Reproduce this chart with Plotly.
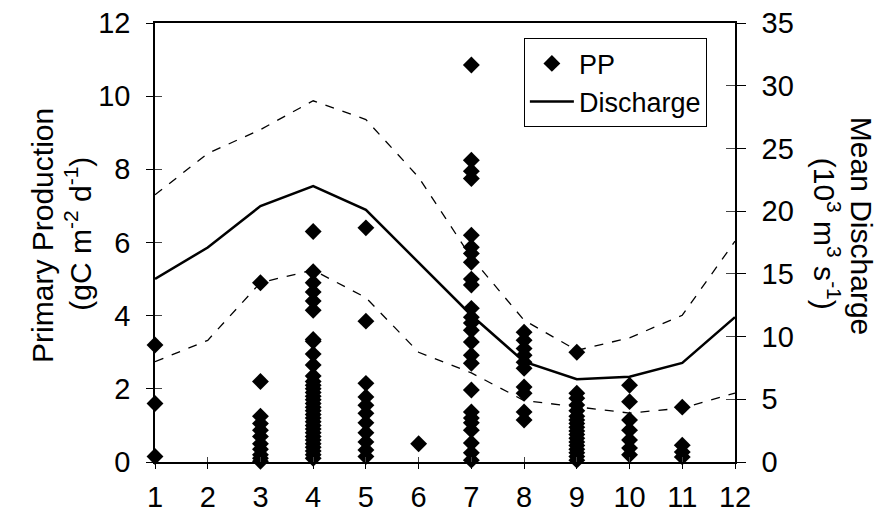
import plotly.graph_objects as go

months = list(range(1, 13))
month_labels = [str(m) for m in months]

# Discharge (10^3 m3 s-1): mean, upper and lower envelopes
discharge_mean = [14.6, 17.1, 20.4, 22.0, 20.1, 15.9, 11.7, 8.0, 6.6, 6.8, 7.9, 11.55]
discharge_upper = [21.3, 24.6, 26.5, 28.8, 27.3, 22.7, 16.3, 11.3, 8.9, 9.9, 11.7, 17.6]
discharge_lower = [8.0, 9.7, 14.3, 15.3, 13.1, 8.75, 7.1, 4.9, 4.4, 3.9, 4.3, 5.5]

# Primary production observations per month (gC m-2 d-1)
pp_m1 = [3.2, 1.6, 0.15]
pp_m3 = [4.9, 2.2, 1.25, 1.05, 0.87, 0.7, 0.5, 0.35, 0.2, 0.1, 0.02]
pp_m4 = [6.3, 5.2, 4.9, 4.65, 4.4, 4.15, 3.35, 3.3, 2.95, 2.65, 2.35, 2.2, 2.1, 2.0,
         1.9, 1.8, 1.7, 1.6, 1.5, 1.4, 1.3, 1.2, 1.1, 1.0, 0.9, 0.8, 0.7, 0.6, 0.5,
         0.4, 0.3, 0.2, 0.1]
pp_m5 = [6.4, 3.85, 2.15, 1.78, 1.55, 1.33, 1.07, 0.8, 0.55, 0.33, 0.15]
pp_m6 = [0.5]
pp_m7 = [10.85, 8.25, 7.95, 7.75, 6.2, 5.87, 5.7, 5.46, 5.0, 4.84, 4.2, 3.96, 3.8, 3.6,
         3.28, 2.92, 2.7, 1.97, 1.37, 1.2, 1.07, 0.87, 0.52, 0.25, 0.05]
pp_m8 = [3.55, 3.33, 3.1, 2.92, 2.73, 2.56, 2.05, 1.88, 1.37, 1.15]
pp_m9 = [3.0, 1.88, 1.74, 1.56, 1.4, 1.25, 1.15, 1.05, 0.95, 0.85, 0.75, 0.65, 0.55,
         0.45, 0.35, 0.25, 0.15, 0.05]
pp_m10 = [2.1, 1.65, 1.15, 0.87, 0.6, 0.38, 0.2]
pp_m11 = [1.5, 0.46, 0.27, 0.14]

pp_by_month = {1: pp_m1, 3: pp_m3, 4: pp_m4, 5: pp_m5, 6: pp_m6, 7: pp_m7,
               8: pp_m8, 9: pp_m9, 10: pp_m10, 11: pp_m11}
pp_x, pp_y = [], []
for m, vals in pp_by_month.items():
    pp_x += [m] * len(vals)
    pp_y += vals

FONT = "Liberation Sans, Arial, sans-serif"
fig = go.Figure()

fig.add_trace(go.Scatter(x=months, y=discharge_upper, mode="lines", yaxis="y2",
                         line=dict(color="black", width=1.3, dash="dash"),
                         showlegend=False, hoverinfo="skip"))
fig.add_trace(go.Scatter(x=months, y=discharge_lower, mode="lines", yaxis="y2",
                         line=dict(color="black", width=1.3, dash="dash"),
                         showlegend=False, hoverinfo="skip"))
fig.add_trace(go.Scatter(x=pp_x, y=pp_y, mode="markers", name="PP",
                         marker=dict(symbol="diamond", size=13, color="black"),
                         cliponaxis=False))
fig.add_trace(go.Scatter(x=months, y=discharge_mean, mode="lines", yaxis="y2",
                         name="Discharge", line=dict(color="black", width=2.5)))

axis_common = dict(showgrid=False, zeroline=False, color="black", automargin=False,
                   tickfont=dict(family=FONT, size=29, color="black"))

fig.update_layout(
    width=881, height=515,
    margin=dict(l=155, r=146, t=23, b=53),
    paper_bgcolor="white", plot_bgcolor="white",
    font=dict(family=FONT, color="black"),
    xaxis=dict(range=[1, 12], tickvals=months, ticktext=month_labels,
               ticks="outside", ticklen=5, tickwidth=1, showline=True,
               linewidth=1.5, linecolor="black", mirror=True,
               ticklabelstandoff=3, **axis_common),
    xaxis2=dict(range=[1, 12], overlaying="x", tickvals=months, ticks="inside",
                ticklen=5, showticklabels=False, showline=False,
                showgrid=False, zeroline=False, matches="x", automargin=False),
    yaxis=dict(range=[0, 12], dtick=2, ticks="outside", ticklen=7, tickwidth=1,
               showline=True, linewidth=1.5, linecolor="black",
               ticklabelstandoff=10, **axis_common),
    yaxis3=dict(range=[0, 12], dtick=2, overlaying="y", side="left",
                ticks="inside", ticklen=7, showticklabels=False,
                showline=False, showgrid=False, zeroline=False, automargin=False),
    yaxis2=dict(range=[0, 35], dtick=5, overlaying="y", side="right",
                ticks="outside", ticklen=9, tickwidth=1, showline=True,
                linewidth=1.5, linecolor="black", ticklabelstandoff=10,
                **axis_common),
    yaxis4=dict(range=[0, 35], dtick=5, overlaying="y", side="right",
                ticks="inside", ticklen=9, showticklabels=False,
                showline=False, showgrid=False, zeroline=False, automargin=False),
    legend=dict(x=0.636, y=0.965, xanchor="left", yanchor="top",
                bordercolor="black", borderwidth=1, bgcolor="white",
                font=dict(family=FONT, size=27, color="black"),
                itemwidth=44, tracegroupgap=0),
    showlegend=True,
)

# dummy traces so overlay tick axes render
fig.add_trace(go.Scatter(x=[None], y=[None], xaxis="x2", yaxis="y3",
                         showlegend=False, hoverinfo="skip"))
fig.add_trace(go.Scatter(x=[None], y=[None], xaxis="x2", yaxis="y4",
                         showlegend=False, hoverinfo="skip"))

ann_font = dict(family=FONT, size=30, color="black")
fig.add_annotation(text="Primary Production", xref="paper", yref="paper",
                   x=0, y=0.515, xshift=-112, textangle=-90, showarrow=False,
                   xanchor="center", yanchor="middle", font=ann_font)
fig.add_annotation(text="(gC m<sup>-2</sup> d<sup>-1</sup>)", xref="paper", yref="paper",
                   x=0, y=0.52, xshift=-77, textangle=-90, showarrow=False,
                   xanchor="center", yanchor="middle", font=ann_font)
fig.add_annotation(text="Mean Discharge", xref="paper", yref="paper",
                   x=1, y=0.538, xshift=126, textangle=90, showarrow=False,
                   xanchor="center", yanchor="middle", font=ann_font)
fig.add_annotation(text="(10<sup>3</sup> m<sup>3</sup> s<sup>-1</sup>)", xref="paper", yref="paper",
                   x=1, y=0.52, xshift=92, textangle=90, showarrow=False,
                   xanchor="center", yanchor="middle", font=ann_font)

fig.write_html("out.html")
